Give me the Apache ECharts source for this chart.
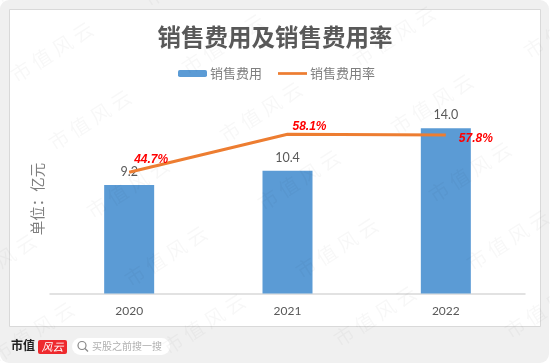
<!DOCTYPE html>
<html>
<head>
<meta charset="utf-8">
<style>
  html, body { margin: 0; padding: 0; background: #fff; }
  #chart { width: 550px; height: 364px; }
</style>
<script src="https://cdn.jsdelivr.net/npm/echarts@6/dist/echarts.min.js"></script>
</head>
<body>
<div id="chart"></div>
<script>
const years = ['2020', '2021', '2022'];
const salesExpense = [9.2, 10.4, 14.0];
const expenseRate = [44.7, 58.1, 57.8];
const rateLabelOffsets = [[22, -2], [22, 3], [30, 15]];

const cjk = '"Noto Sans CJK SC", sans-serif';
const latin = 'Lato, "Noto Sans CJK SC", sans-serif';

// 水印
const watermarks = [];
for (let i = -1; i < 4; i++) {
  for (let j = -1; j < 5; j++) {
    watermarks.push({
      type: 'text',
      silent: true,
      z: 20,
      x: 52 + i * 171 + j * 38,
      y: 52 - i * 8 + j * 68,
      rotation: 0.57,
      style: {
        text: '市 值 风 云',
        font: '20px ' + cjk,
        fill: 'rgba(0,0,0,0.03)',
        align: 'center',
        verticalAlign: 'middle'
      }
    });
  }
}

const chart = echarts.init(document.getElementById('chart'));
chart.setOption({
  animation: false,
  title: {
    text: '销售费用及销售费用率',
    left: 'center',
    top: 20,
    textStyle: { color: '#595959', fontSize: 23.5, fontWeight: 'bold', fontFamily: cjk }
  },
  legend: {
    left: 178,
    top: 67,
    padding: 0,
    itemWidth: 29,
    itemHeight: 7,
    itemGap: 16,
    textStyle: { color: '#7f7f7f', fontSize: 13, fontFamily: cjk, padding: [0, 0, 0, -2] },
    data: ['销售费用', { name: '销售费用率', icon: 'path://M0,0H32V3H0Z' }]
  },
  grid: { left: 50, width: 475, top: 104.7, height: 188.8 },
  xAxis: {
    type: 'category',
    data: years,
    axisTick: { show: false },
    axisLine: { lineStyle: { color: '#d9d9d9', width: 1.5 } },
    axisLabel: { color: '#595959', fontSize: 12, fontFamily: latin, margin: 12 }
  },
  yAxis: [
    {
      type: 'value',
      min: 0,
      max: 16,
      name: '单位：亿元',
      nameLocation: 'middle',
      nameGap: 5,
      nameRotate: 90,
      nameTextStyle: { color: '#7f7f7f', fontSize: 14.5, fontFamily: cjk },
      axisLine: { show: false },
      axisTick: { show: false },
      axisLabel: { show: false },
      splitLine: { show: false }
    },
    {
      type: 'value',
      min: 2,
      max: 68.5,
      axisLine: { show: false },
      axisTick: { show: false },
      axisLabel: { show: false },
      splitLine: { show: false }
    }
  ],
  series: [
    {
      name: '销售费用',
      type: 'bar',
      barWidth: 50,
      data: salesExpense,
      itemStyle: { color: '#5b9bd5' },
      label: {
        show: true,
        position: 'top',
        distance: 7,
        color: '#595959',
        fontSize: 12.5,
        fontFamily: latin,
        formatter: (p) => p.value.toFixed(1)
      }
    },
    {
      name: '销售费用率',
      type: 'line',
      yAxisIndex: 1,
      symbol: 'circle',
      symbolSize: 0,
      showSymbol: true,
      lineStyle: { color: '#ed7d31', width: 3 },
      itemStyle: { color: '#ed7d31' },
      label: {
        show: true,
        position: 'top',
        color: '#ff0000',
        fontSize: 12,
        fontStyle: 'italic',
        fontWeight: 'bold',
        fontFamily: '"Liberation Sans", sans-serif',
        formatter: (p) => p.value.toFixed(1) + '%'
      },
      data: expenseRate.map((v, i) => ({
        value: v,
        label: { offset: rateLabelOffsets[i] }
      }))
    }
  ],
  graphic: [
    { type: 'rect', z: 0, silent: true, shape: { x: 0, y: 0, width: 549, height: 363, r: 9 }, style: { fill: '#f0f0f0' } },
    { type: 'rect', z: 0, silent: true, shape: { x: 9.5, y: 9.5, width: 531, height: 317 }, style: { fill: '#fff', stroke: '#d9d9d9', lineWidth: 1 } },
    // 页脚
    { type: 'text', z: 5, x: 11, y: 347, style: { text: '市值', font: 'bold 12px "Liberation Serif", "Noto Sans CJK SC", serif', fill: '#222', verticalAlign: 'middle' } },
    { type: 'rect', z: 5, shape: { x: 38, y: 340, width: 29, height: 14, r: 2 }, style: { fill: '#ee2a2e' } },
    { type: 'text', z: 6, x: 52.5, y: 347, style: { text: '风云', font: 'italic 11px ' + cjk, fill: '#fff', align: 'center', verticalAlign: 'middle' } },
    { type: 'rect', z: 5, shape: { x: 72, y: 338, width: 98, height: 17, r: 8.5 }, style: { fill: '#fff' } },
    { type: 'circle', z: 6, shape: { cx: 82, cy: 345.5, r: 4 }, style: { fill: 'none', stroke: '#888', lineWidth: 1.2 } },
    { type: 'line', z: 6, shape: { x1: 85, y1: 348.5, x2: 88, y2: 351.5 }, style: { stroke: '#888', lineWidth: 1.2 } },
    { type: 'text', z: 6, x: 92, y: 346.5, style: { text: '买股之前搜一搜', font: '10px ' + cjk, fill: '#b0b0b0', verticalAlign: 'middle' } }
  ].concat(watermarks)
});
</script>
</body>
</html>
